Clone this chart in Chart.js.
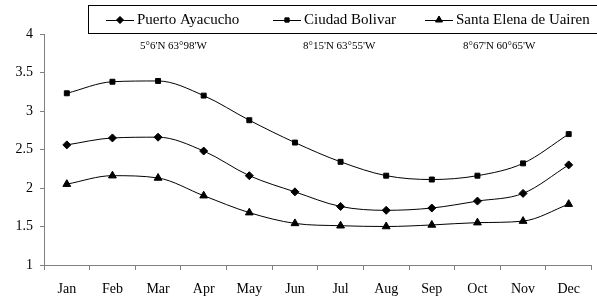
<!DOCTYPE html>
<html>
<head>
<meta charset="utf-8">
<script src="https://cdn.jsdelivr.net/npm/chart.js@4"></script>
<style>
  html, body { margin: 0; padding: 0; background: #fff; }
  #wrap { width: 597px; height: 299px; position: relative; }
</style>
</head>
<body>
<div id="wrap"><canvas id="chart"></canvas></div>
<script>
// data
const months = ['Jan', 'Feb', 'Mar', 'Apr', 'May', 'Jun', 'Jul', 'Aug', 'Sep', 'Oct', 'Nov', 'Dec'];
const puertoAyacucho = [2.56, 2.65, 2.66, 2.48, 2.16, 1.95, 1.76, 1.71, 1.74, 1.83, 1.93, 2.30];
const ciudadBolivar = [3.23, 3.38, 3.39, 3.20, 2.88, 2.59, 2.34, 2.16, 2.11, 2.16, 2.32, 2.70];
const santaElena = [2.05, 2.16, 2.13, 1.90, 1.68, 1.54, 1.51, 1.50, 1.52, 1.55, 1.57, 1.79];
const seriesNames = ['Puerto Ayacucho', 'Ciudad Bolivar', 'Santa Elena de Uairen'];
const coordLabels = ["5°6'N 63°98'W", "8°15'N 63°55'W", "8°67'N 60°65'W"];
const yTicks = [1, 1.5, 2, 2.5, 3, 3.5, 4];

const SERIF = '"Liberation Serif", "Times New Roman", serif';

function series(label, data, style, radius) {
    return {
        label: label,
        data: data,
        borderColor: '#000',
        backgroundColor: '#000',
        borderWidth: 1,
        pointStyle: style,
        pointRadius: radius,
        pointHoverRadius: radius,
        cubicInterpolationMode: 'monotone'
    };
}

// legend box + coordinate notes drawn by hand (Excel style)
const legendPlugin = {
    id: 'excelLegend',
    afterDraw(chart) {
        const ctx = chart.ctx;
        ctx.save();
        ctx.strokeStyle = '#000';
        ctx.lineWidth = 1;
        ctx.strokeRect(88.5, 5.5, 520, 28);

        const itemX = [106, 273, 425];
        ctx.font = '15px ' + SERIF;
        ctx.textBaseline = 'middle';
        ctx.fillStyle = '#000';
        chart.data.datasets.forEach(function(ds, i) {
            const x = itemX[i];
            const y = 20;
            ctx.beginPath();
            ctx.moveTo(x, y + 0.5);
            ctx.lineTo(x + 28, y + 0.5);
            ctx.stroke();
            Chart.helpers.drawPoint(ctx, {
                pointStyle: ds.pointStyle,
                radius: ds.pointRadius - 0.5,
                borderWidth: 1
            }, x + 14, y);
            ctx.fill();
            ctx.fillText(ds.label, x + 31, y);
        });

        const noteX = [140, 303, 463];
        ctx.font = '11px ' + SERIF;
        coordLabels.forEach(function(t, i) {
            ctx.fillText(t, noteX[i], 46);
        });
        ctx.restore();
    }
};

const ctx = document.getElementById('chart').getContext('2d');
new Chart(ctx, {
    type: 'line',
    data: {
        labels: months,
        datasets: [
            series(seriesNames[0], puertoAyacucho, 'rectRot', 4),
            series(seriesNames[1], ciudadBolivar, 'rect', 3.5),
            series(seriesNames[2], santaElena, 'triangle', 4.5)
        ]
    },
    options: {
        responsive: true,
        maintainAspectRatio: false,
        animation: false,
        layout: { padding: { top: 34, right: 0, left: 0, bottom: 0 } },
        plugins: {
            legend: { display: false },
            tooltip: { enabled: false }
        },
        scales: {
            x: {
                offset: true,
                grid: {
                    display: true,
                    drawOnChartArea: false,
                    offset: true,
                    tickLength: 5,
                    color: '#808080'
                },
                border: { color: '#808080', width: 1 },
                ticks: {
                    color: '#000',
                    font: { family: SERIF, size: 14 },
                    padding: 11,
                    maxRotation: 0,
                    autoSkip: false
                },
                afterFit(scale) { scale.height = 34; }
            },
            y: {
                min: 1,
                max: 4,
                afterBuildTicks(scale) {
                    scale.ticks = yTicks.map(function(v) { return { value: v }; });
                },
                grid: {
                    display: true,
                    drawOnChartArea: false,
                    tickLength: 4,
                    color: '#808080'
                },
                border: { color: '#808080', width: 1 },
                ticks: {
                    color: '#000',
                    font: { family: SERIF, size: 14 },
                    padding: 7,
                    callback: function(v) { return String(v); }
                },
                afterFit(scale) { scale.width = 44; }
            }
        }
    },
    plugins: [legendPlugin]
});
</script>
</body>
</html>
